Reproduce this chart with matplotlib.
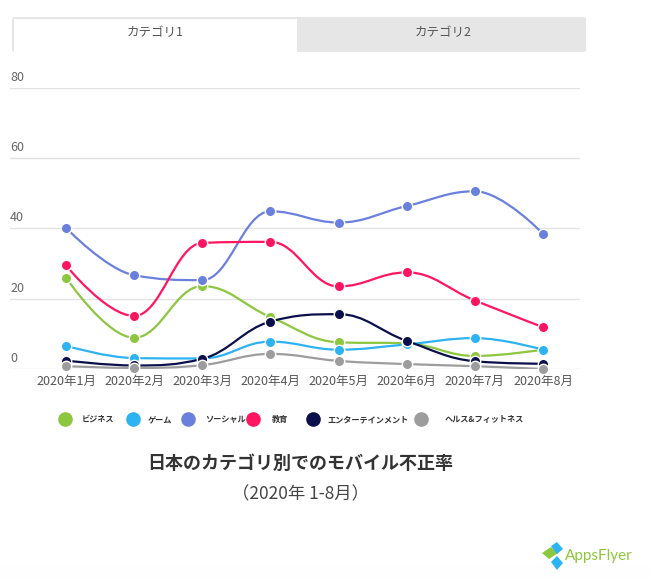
import matplotlib.pyplot as plt
from matplotlib.path import Path
from matplotlib.patches import PathPatch, Rectangle, FancyBboxPatch, Polygon

plt.rcParams['font.family'] = ['Noto Sans CJK JP', 'DejaVu Sans']

months = ["2020年1月", "2020年2月", "2020年3月", "2020年4月",
          "2020年5月", "2020年6月", "2020年7月", "2020年8月"]

business = [26.0, 8.9, 23.6, 14.8, 7.6, 7.3, 3.7, 5.5]
game = [6.6, 3.1, 3.0, 7.8, 5.5, 7.0, 8.8, 5.5]
social = [40.2, 26.7, 25.3, 44.9, 41.7, 46.4, 50.6, 38.5]
education = [29.5, 15.1, 35.9, 36.2, 23.5, 27.5, 19.5, 11.9]
entertainment = [2.4, 1.0, 2.9, 13.5, 15.6, 8.0, 2.2, 1.5]
health = [0.8, 0.3, 1.1, 4.3, 2.3, 1.4, 0.8, 0.0]

names = ["ビジネス", "ゲーム", "ソーシャル", "教育", "エンターテインメント", "ヘルス&フィットネス"]
colors = ["#8dc63f", "#2db3f2", "#6b80dd", "#ff1560", "#0b0f4b", "#9d9d9d"]
series = [business, game, social, education, entertainment, health]

W, H = 650, 579


def spline_path(xs, ys, sm=1.5):
    # highcharts-like spline through the points
    n = len(xs)
    left = [None] * n
    right = [None] * n
    for i in range(1, n - 1):
        px, py = xs[i], ys[i]
        lx, ly = xs[i - 1], ys[i - 1]
        nx, ny = xs[i + 1], ys[i + 1]
        d = sm + 1
        lcx, lcy = (sm * px + lx) / d, (sm * py + ly) / d
        rcx, rcy = (sm * px + nx) / d, (sm * py + ny) / d
        if rcx != lcx:
            corr = ((rcy - lcy) * (rcx - px)) / (rcx - lcx) + py - rcy
            lcy += corr
            rcy += corr
        if lcy > ly and lcy > py:
            lcy = max(ly, py)
            rcy = 2 * py - lcy
        elif lcy < ly and lcy < py:
            lcy = min(ly, py)
            rcy = 2 * py - lcy
        if rcy > ny and rcy > py:
            rcy = max(ny, py)
            lcy = 2 * py - rcy
        elif rcy < ny and rcy < py:
            rcy = min(ny, py)
            lcy = 2 * py - rcy
        left[i] = (lcx, lcy)
        right[i] = (rcx, rcy)
    verts = [(xs[0], ys[0])]
    codes = [Path.MOVETO]
    for i in range(1, n):
        c1 = right[i - 1] or (xs[i - 1], ys[i - 1])
        c2 = left[i] or (xs[i], ys[i])
        verts += [c1, c2, (xs[i], ys[i])]
        codes += [Path.CURVE4] * 3
    return Path(verts, codes)


def fx(px):
    return px / W


def fy(py):
    return 1 - py / H


fig = plt.figure(figsize=(6.5, 5.79), dpi=100)

# tabs
fig.patches.append(FancyBboxPatch((fx(12), fy(52)), fx(586) - fx(12), fy(17) - fy(52),
                                  boxstyle="round,pad=0,rounding_size=0.004",
                                  transform=fig.transFigure, facecolor="#e6e6e6",
                                  edgecolor="none", zorder=0))
fig.patches.append(Rectangle((fx(13.5), fy(53)), fx(297) - fx(13.5), fy(19.5) - fy(53),
                             transform=fig.transFigure, facecolor="white",
                             edgecolor="none", zorder=1))
fig.text(fx(155), fy(33), "カテゴリ1", ha="center", va="center", fontsize=9, color="#555555")
fig.text(fx(443), fy(33), "カテゴリ2", ha="center", va="center", fontsize=9, color="#555555")

# plot area
x0 = -(66 - 10) / 68.14
x1 = 7 + (580 - 543) / 68.14
ax = fig.add_axes([fx(10), fy(369), fx(580) - fx(10), fy(88) - fy(369)])
ax.set_xlim(x0, x1)
ax.set_ylim(0, 80)
for s in ax.spines.values():
    s.set_visible(False)
ax.set_yticks([0, 20, 40, 60, 80])
ax.yaxis.grid(True, color="#e3e3e3", linewidth=1)
ax.set_axisbelow(True)
ax.tick_params(axis="y", length=0, labelleft=False)
for v in [0, 20, 40, 60, 80]:
    ax.annotate(str(v), (0, v), xycoords=ax.get_yaxis_transform(),
                xytext=(0, 3), textcoords="offset points",
                ha="left", va="bottom", fontsize=9, color="#666666")

xs = list(range(len(months)))
ax.set_xticks(xs)
ax.set_xticklabels(months, fontsize=9, color="#555555")
ax.tick_params(axis="x", length=0, pad=4)

for i, (vals, c) in enumerate(zip(series, colors)):
    ax.add_patch(PathPatch(spline_path(xs, vals), facecolor="none", edgecolor=c,
                           linewidth=1.6, zorder=3 + i * 2, capstyle="round"))
    ax.plot(xs, vals, linestyle="none", marker="o", markersize=7.5,
            markerfacecolor=c, markeredgecolor="white", markeredgewidth=1.0,
            zorder=4 + i * 2, clip_on=False)

# legend
leg_marker_x = [65, 132.7, 188, 252.5, 312.7, 420.7]
leg_text_x = [81.7, 147.7, 205.2, 272, 327, 445]
for mx, tx, name, c in zip(leg_marker_x, leg_text_x, names, colors):
    fig.text(fx(tx), fy(419.5), name, ha="left", va="center", fontsize=5.9,
             fontweight="bold", color="#333333")
    fig.add_artist(plt.Line2D([fx(mx)], [fy(419)], marker="o", markersize=9.5,
                              color=c, linestyle="none", transform=fig.transFigure))

# titles
fig.text(fx(300), fy(463), "日本のカテゴリ別でのモバイル不正率", ha="center", va="center",
         fontsize=13, fontweight="bold", color="#333333")
fig.text(fx(300), fy(494), "（2020年 1-8月）", ha="center", va="center",
         fontsize=12.5, color="#444444")

# bottom fade
for k in range(14):
    fig.patches.append(Rectangle((0, fy(579 - k)), 1, 1 / H, transform=fig.transFigure,
                                 facecolor="#f2f2f2", alpha=0.08 * (14 - k) / 14,
                                 edgecolor="none", zorder=0))

# logo
fig.patches.append(Polygon([(fx(542), fy(553)), (fx(551), fy(547)), (fx(558), fy(553)),
                            (fx(549), fy(559))], closed=True, transform=fig.transFigure,
                           facecolor="#8dc63f", edgecolor="none"))
fig.patches.append(Polygon([(fx(551), fy(546)), (fx(557), fy(542)), (fx(563), fy(549)),
                            (fx(557), fy(554))], closed=True, transform=fig.transFigure,
                           facecolor="#2db3f2", edgecolor="none"))
fig.patches.append(Polygon([(fx(551), fy(562)), (fx(557), fy(556)), (fx(563), fy(563)),
                            (fx(557), fy(570))], closed=True, transform=fig.transFigure,
                           facecolor="#2db3f2", edgecolor="none"))
fig.text(fx(565), fy(556), "AppsFlyer", ha="left", va="center", fontsize=11,
         color="#8dc63f", family=["Lato", "DejaVu Sans"])

fig.savefig("out.png", dpi=100)
